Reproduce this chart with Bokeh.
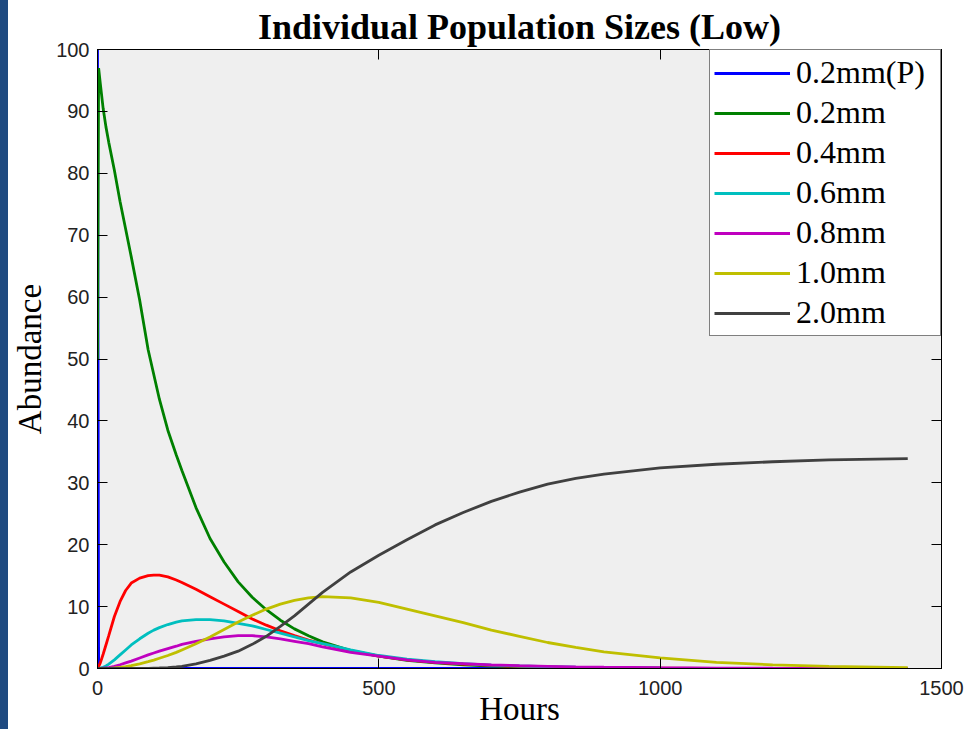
from bokeh.plotting import figure
from bokeh.models import ColumnDataSource, LinearAxis, FixedTicker, Range1d, Spacer
from bokeh.layouts import row
from bokeh.embed import file_html
from bokeh.resources import INLINE

# ---- data ----
hours = [0, 2, 5, 10, 15, 20, 30, 40, 50, 60, 75, 90, 100, 110, 125, 140, 150,
         175, 200, 225, 250, 275, 300, 325, 350, 375, 400, 450, 500, 550, 600,
         650, 700, 750, 800, 850, 900, 1000, 1100, 1200, 1300, 1440]

pop_02P = [100] + [0] * 41
pop_02 = [50, 97, 94.5, 90.5, 87.5, 85, 80.5, 75.5, 71, 66.5, 59.5, 51.5, 47.5, 43.5,
          38.5, 34.5, 32, 26, 21, 17.2, 14, 11.5, 9.5, 7.8, 6.4, 5.3, 4.3, 2.9, 2.0,
          1.3, 0.9, 0.6, 0.4, 0.28, 0.2, 0.13, 0.09, 0.04, 0.02, 0, 0, 0]
pop_04 = [0, 0.3, 0.9, 2.3, 3.8, 5.3, 8.4, 10.8, 12.6, 13.8, 14.6, 15.0, 15.1, 15.1,
          14.8, 14.3, 13.9, 12.8, 11.6, 10.4, 9.2, 8.0, 7.0, 6.1, 5.3, 4.6, 4.0, 2.9, 2.0,
          1.4, 1.0, 0.7, 0.5, 0.35, 0.25, 0.15, 0.1, 0.05, 0, 0, 0, 0]
pop_06 = [0, 0, 0.05, 0.2, 0.4, 0.7, 1.4, 2.2, 3.0, 3.8, 4.8, 5.7, 6.2, 6.6,
          7.1, 7.5, 7.7, 7.9, 7.9, 7.7, 7.3, 6.9, 6.3, 5.7, 5.1, 4.5, 4.0, 3.0, 2.1,
          1.5, 1.1, 0.8, 0.55, 0.4, 0.3, 0.2, 0.12, 0.06, 0.03, 0.01, 0, 0]
pop_08 = [0, 0, 0, 0.05, 0.1, 0.15, 0.35, 0.6, 0.9, 1.2, 1.7, 2.2, 2.5, 2.8,
          3.2, 3.6, 3.9, 4.4, 4.8, 5.1, 5.3, 5.3, 5.1, 4.8, 4.4, 4.0, 3.5, 2.6, 2.0,
          1.4, 1.0, 0.8, 0.6, 0.45, 0.35, 0.25, 0.2, 0.12, 0.07, 0.04, 0.02, 0.01]
pop_10 = [0, 0, 0, 0, 0, 0.02, 0.08, 0.18, 0.3, 0.45, 0.75, 1.1, 1.35, 1.65,
          2.1, 2.6, 3.0, 4.0, 5.1, 6.3, 7.5, 8.6, 9.6, 10.4, 11.0, 11.4, 11.6, 11.4, 10.7,
          9.6, 8.5, 7.4, 6.2, 5.2, 4.2, 3.4, 2.7, 1.7, 1.0, 0.6, 0.35, 0.15]
pop_20 = [0, 0, 0, 0, 0, 0, 0, 0, 0, 0, 0, 0.02, 0.05, 0.08,
          0.15, 0.25, 0.35, 0.75, 1.3, 2.0, 2.8, 3.9, 5.2, 6.8, 8.5, 10.4, 12.3, 15.6, 18.3,
          20.8, 23.2, 25.2, 27.0, 28.5, 29.8, 30.7, 31.4, 32.4, 33.0, 33.4, 33.7, 33.9]

series_keys = ["p02P", "p02", "p04", "p06", "p08", "p10", "p20"]
series_labels = ["0.2mm(P)", "0.2mm", "0.4mm", "0.6mm", "0.8mm", "1.0mm", "2.0mm"]
series_colors = ["#0000ff", "#008000", "#ff0000", "#00bfbf", "#bf00bf", "#bfbf00", "#404040"]

x_ticks = [0, 500, 1000, 1500]
y_ticks = [0, 10, 20, 30, 40, 50, 60, 70, 80, 90, 100]

source = ColumnDataSource(dict(hours=hours, p02P=pop_02P, p02=pop_02, p04=pop_04,
                               p06=pop_06, p08=pop_08, p10=pop_10, p20=pop_20))

p = figure(width=972, height=729, output_backend="svg", toolbar_location=None,
           x_range=Range1d(0, 1500), y_range=Range1d(0, 100),
           min_border_left=89, min_border_right=39, min_border_top=49, min_border_bottom=61,
           title="Individual Population Sizes (Low)")

p.background_fill_color = "#efefef"
p.border_fill_color = "white"
p.outline_line_color = "black"
p.outline_line_width = 1
p.grid.visible = False

p.title.align = "center"
p.title.text_font = "Liberation Serif"
p.title.text_font_size = "36px"
p.title.text_font_style = "bold"
p.title.text_color = "black"
p.title.standoff = 6
p.title.offset = 0

for key, lab, col in zip(series_keys, series_labels, series_colors):
    p.line("hours", key, source=source, color=col, line_width=2.8, legend_label=lab)

def style_axis(ax, labels=True):
    ax.axis_line_color = "black"
    ax.major_tick_in = 10
    ax.major_tick_out = 0
    ax.major_tick_line_color = "black"
    ax.minor_tick_line_color = None
    ax.major_label_text_font = "Liberation Sans"
    if labels:
        ax.major_label_text_font_size = "20px"
        ax.major_label_text_color = "#222222"
    else:
        ax.major_label_text_font_size = "0px"
        ax.major_label_text_color = None
        ax.major_label_text_alpha = 0
    ax.axis_label_text_font = "Liberation Serif"
    ax.axis_label_text_font_size = "33px"
    ax.axis_label_text_font_style = "normal"
    ax.axis_label_text_color = "black"

p.xaxis.ticker = FixedTicker(ticks=x_ticks)
p.yaxis.ticker = FixedTicker(ticks=y_ticks)
style_axis(p.xaxis[0])
style_axis(p.yaxis[0])
p.xaxis.axis_label = "Hours"
p.yaxis.axis_label = "Abundance"
p.xaxis.major_label_standoff = 12
p.xaxis.axis_label_standoff = -7
p.yaxis.major_label_standoff = 8
p.yaxis.axis_label_standoff = 5

top_ax = LinearAxis(ticker=FixedTicker(ticks=x_ticks), major_label_standoff=0)
right_ax = LinearAxis(ticker=FixedTicker(ticks=y_ticks), major_label_standoff=0)
style_axis(top_ax, labels=False)
style_axis(right_ax, labels=False)
p.add_layout(top_ax, "above")
p.add_layout(right_ax, "right")

lg = p.legend[0]
lg.location = "top_right"
lg.margin = 0
lg.padding = 4
lg.spacing = 3
lg.border_line_color = "black"
lg.border_line_width = 1
lg.background_fill_color = "white"
lg.background_fill_alpha = 1
lg.label_text_font = "Liberation Serif"
lg.label_text_font_size = "32px"
lg.label_text_color = "black"
lg.glyph_width = 76
lg.glyph_height = 36
lg.label_height = 36
lg.label_width = 140
lg.label_standoff = 6

strip = Spacer(width=8, height=729, styles={"background-color": "#1f4a80"})
layout = row(strip, p, spacing=0)

open("out.html", "w").write(file_html(layout, INLINE))
